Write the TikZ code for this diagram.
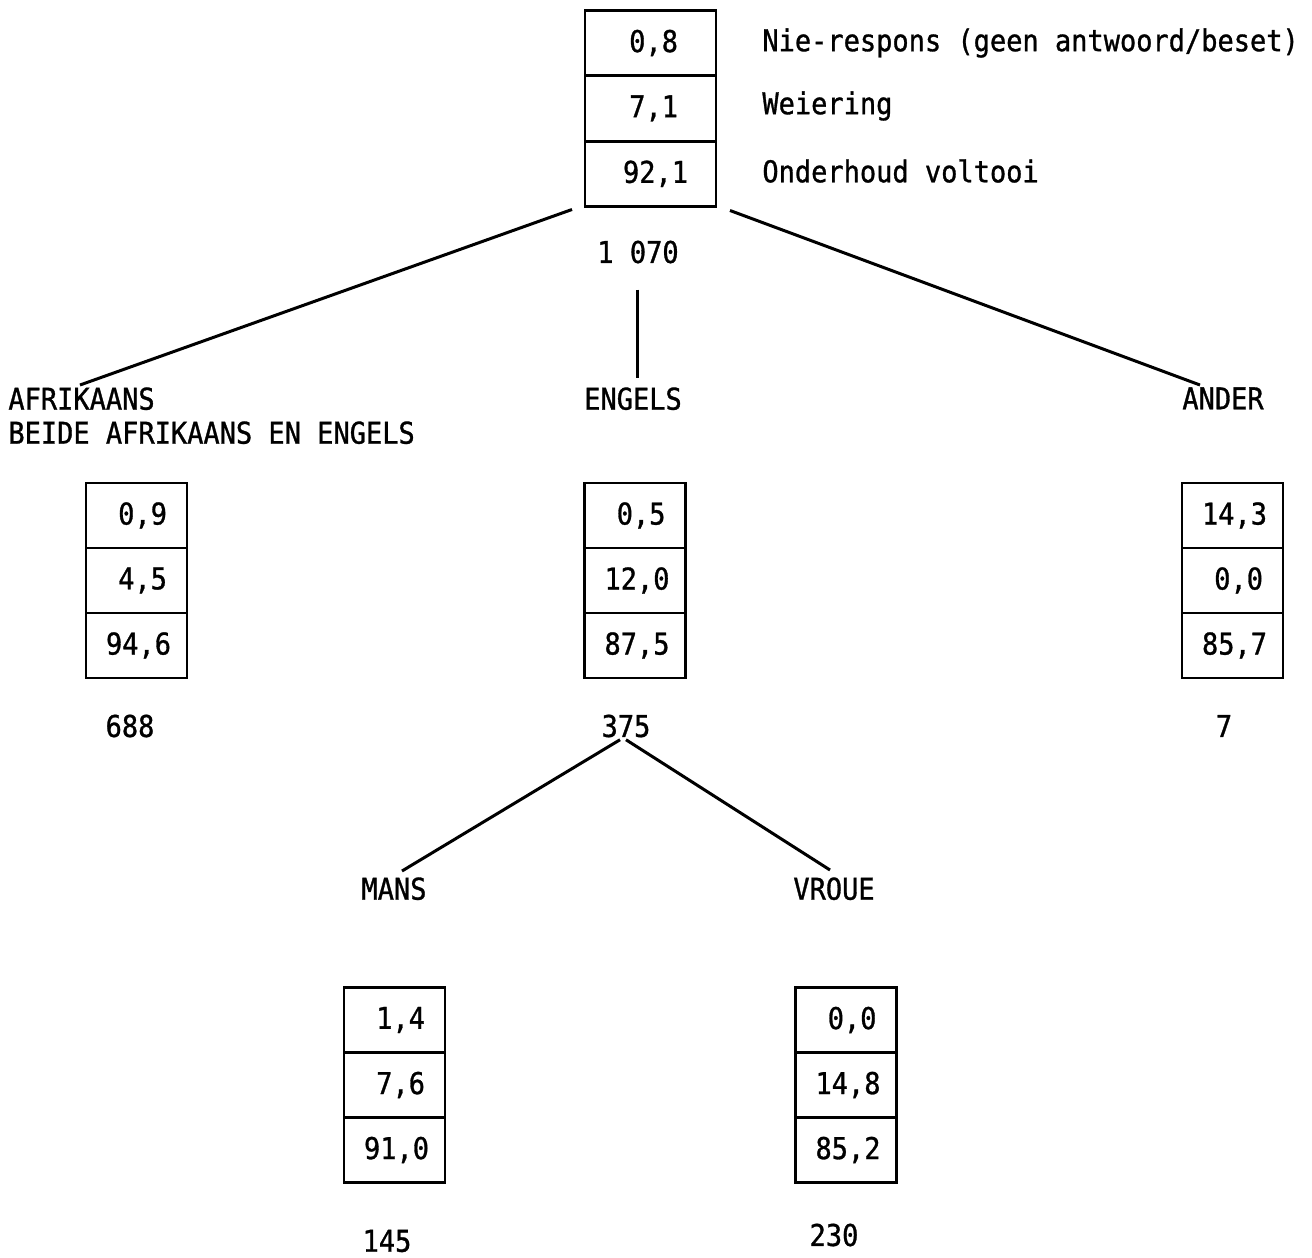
\documentclass[tikz,border=0pt]{standalone}
\usepackage{fontspec}
\setmainfont{DejaVu Sans Mono}[FakeStretch=0.9, UprightFeatures={FakeBold=1}]
\usetikzlibrary{positioning}

\tikzset{
	cell/.style={draw, line width=1.4pt, outer sep=0pt, inner sep=0pt, minimum width=50.5pt, minimum height=32.5pt, text width=30.5pt, align=right},
	widecell/.style={cell, minimum width=65.5pt, minimum height=32.7pt, text width=27.5pt},
	lbl/.style={inner sep=0pt},
	branch/.style={line width=1.5pt},
}

\begin{document}
\begin{tikzpicture}[x=0.5pt, y=-0.5pt, font=\fontsize{15pt}{17pt}\selectfont]
	\useasboundingbox (0,0) rectangle (1312,1258);
	\node[widecell] (t1) at (650.5,43) {0,8};
	\node[widecell, below=0pt of t1] (t2) {7,1};
	\node[widecell, below=0pt of t2] (t3) {92,1};
	\node[lbl, anchor=west] (leg1) at (762,43) {Nie-respons (geen antwoord/beset)};
	\node[lbl, anchor=west] (leg2) at (762,106) {Weiering};
	\node[lbl, anchor=west] (leg3) at (762,171) {Onderhoud voltooi};
	\node[lbl] (n1070) at (638,252) {1 070};

	\node[lbl, anchor=north west, align=left] (afr) at (8,387) {AFRIKAANS\\BEIDE AFRIKAANS EN ENGELS};
	\node[lbl, anchor=north] (eng) at (633,387) {ENGELS};
	\node[lbl, anchor=north] (and) at (1223,387) {ANDER};
	\draw[branch] ([xshift=-6.5pt,yshift=-1.5pt]t3.south west) -- ([xshift=36pt,yshift=1pt]afr.north west);
	\draw[branch] ([xshift=-0.5pt,yshift=-13pt]n1070.south) -- ([xshift=2pt,yshift=4.5pt]eng.north);
	\draw[branch] ([xshift=7pt,yshift=-2pt]t3.south east) -- ([xshift=9pt,yshift=1pt]and.north west);

	\node[cell] (a1) at (136.5,515.5) {0,9};
	\node[cell, below=0pt of a1] (a2) {4,5};
	\node[cell, below=0pt of a2] (a3) {94,6};
	\node[cell] (e1) at (635,515.5) {0,5};
	\node[cell, below=0pt of e1] (e2) {12,0};
	\node[cell, below=0pt of e2] (e3) {87,5};
	\node[cell] (o1) at (1232.5,515.5) {14,3};
	\node[cell, below=0pt of o1] (o2) {0,0};
	\node[cell, below=0pt of o2] (o3) {85,7};
	\node[lbl] (n688) at (130,726) {688};
	\node[lbl] (n375) at (626,726) {375};
	\node[lbl] (n7) at (1224,726) {7};

	\node[lbl, anchor=north] (mans) at (394,877) {MANS};
	\node[lbl, anchor=north] (vroue) at (834,877) {VROUE};
	\draw[branch] ([xshift=-3pt,yshift=-1pt]n375.south) -- ([xshift=4pt,yshift=3pt]mans.north);
	\draw[branch] ([xshift=0pt,yshift=-1pt]n375.south) -- ([xshift=-2pt,yshift=3.5pt]vroue.north);

	\node[cell] (m1) at (394.5,1020) {1,4};
	\node[cell, below=0pt of m1] (m2) {7,6};
	\node[cell, below=0pt of m2] (m3) {91,0};
	\node[cell] (v1) at (846,1020) {0,0};
	\node[cell, below=0pt of v1] (v2) {14,8};
	\node[cell, below=0pt of v2] (v3) {85,2};
	\node[lbl] (n145) at (387,1241) {145};
	\node[lbl] (n230) at (834,1235) {230};
\end{tikzpicture}
\end{document}
